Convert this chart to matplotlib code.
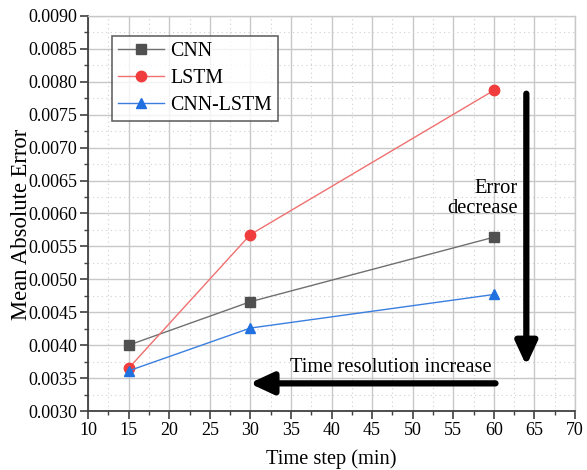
import matplotlib.pyplot as plt
from matplotlib.ticker import MultipleLocator

plt.rcParams['font.family'] = ['Liberation Serif', 'DejaVu Serif']

time_step = [15, 30, 60]
cnn = [0.00400, 0.00466, 0.00564]
lstm = [0.00365, 0.00568, 0.00787]
cnn_lstm = [0.00361, 0.00426, 0.00477]

fig = plt.figure(figsize=(5.87, 4.70), dpi=100)
ax = fig.add_axes([0.150, 0.1255, 0.8296, 0.8405])

ax.plot(time_step, cnn, color='#707070', lw=1, marker='s', ms=6.5,
        mfc='#505050', mec='#505050', label='CNN')
ax.plot(time_step, lstm, color='#f07070', lw=1, marker='o', ms=7.5,
        mfc='#f03c3c', mec='#f03c3c', label='LSTM')
ax.plot(time_step, cnn_lstm, color='#3a7fe0', lw=1, marker='^', ms=7.5,
        mfc='#2070e0', mec='#2070e0', label='CNN-LSTM')

# arrows
arr = dict(arrowstyle='-|>,head_width=0.65,head_length=1.4',
           lw=4.5, color='black', shrinkA=0, shrinkB=0)
ax.annotate('', xy=(64, 0.00369), xytext=(64, 0.00782), arrowprops=arr)
ax.annotate('', xy=(29.9, 0.00342), xytext=(60.2, 0.00342), arrowprops=arr)
ax.text(62.9, 0.00623, 'Error\ndecrease', ha='right', va='center',
        fontsize=14.8, linespacing=1.05)
ax.text(47.3, 0.00366, 'Time resolution increase', ha='center', va='center',
        fontsize=14.8)

ax.set_xlim(10, 70)
ax.set_ylim(0.0030, 0.0090)
ax.xaxis.set_major_locator(MultipleLocator(5))
ax.xaxis.set_minor_locator(MultipleLocator(2.5))
ax.yaxis.set_major_locator(MultipleLocator(0.0005))
ax.yaxis.set_minor_locator(MultipleLocator(0.00025))
ax.yaxis.set_major_formatter(plt.FuncFormatter(lambda v, p: '%.4f' % v))

ax.grid(which='major', color='#c8c8c8', lw=1)
ax.grid(which='minor', color='#d0d0d0', lw=0.8, ls=(0, (1, 3)))
ax.set_axisbelow(True)

for s in ['left', 'bottom']:
    ax.spines[s].set_color('#404040')
    ax.spines[s].set_linewidth(1.3)
for s in ['top', 'right']:
    ax.spines[s].set_color('#c8c8c8')
    ax.spines[s].set_linewidth(1)

ax.tick_params(which='major', direction='out', length=6, width=1.2,
               color='#404040', labelsize=13, pad=2, top=False, right=False)
ax.tick_params(which='minor', direction='out', length=3, width=1,
               color='#404040', top=False, right=False)

ax.set_xlabel('Time step (min)', fontsize=14.7, va='center')
ax.set_ylabel('Mean Absolute Error', fontsize=16.3, va='center')
ax.xaxis.set_label_coords(0.5, -0.122)
ax.yaxis.set_label_coords(-0.136, 0.473)

leg = ax.legend(loc='upper left', bbox_to_anchor=(0.049, 0.95), fontsize=14.3,
                frameon=True, fancybox=False, edgecolor='#404040',
                handlelength=2.3, borderpad=0.3, labelspacing=0.42,
                handletextpad=0.35, borderaxespad=0)
leg.get_frame().set_linewidth(1.2)

fig.savefig('out.png', dpi=100)
